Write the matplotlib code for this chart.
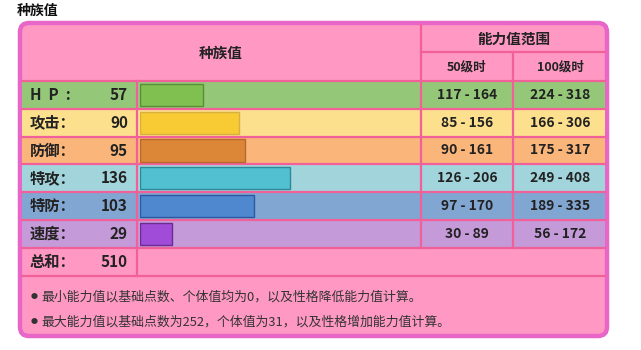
import matplotlib
matplotlib.use("Agg")
import matplotlib.pyplot as plt
from matplotlib.patches import Rectangle, FancyBboxPatch

plt.rcParams['font.family'] = ['Noto Sans CJK SC', 'DejaVu Sans']

# data
stat_labels = ['H  P  :', '攻击：', '防御：', '特攻：', '特防：', '速度：']
base_stats = [57, 90, 95, 136, 103, 29]
range_lv50 = ['117 - 164', '85 - 156', '90 - 161', '126 - 206', '97 - 170', '30 - 89']
range_lv100 = ['224 - 318', '166 - 306', '175 - 317', '249 - 408', '189 - 335', '56 - 172']
total_label = '总和：'
total_value = 510
notes = ['最小能力值以基础点数、个体值均为0，以及性格降低能力值计算。',
         '最大能力值以基础点数为252，个体值为31，以及性格增加能力值计算。']

row_bg = ['#94c878', '#fde08e', '#fab57a', '#a2d4dc', '#82a6d2', '#c49ad8']
bar_fc = ['#80c050', '#f8ca34', '#dc8638', '#52c0d0', '#5088d0', '#a04cd8']
bar_ec = ['#5a8c3c', '#d8b040', '#b86a2c', '#2e8898', '#2c58a0', '#6a2c90']

pink = '#ff99c4'
line_c = '#f2609a'
border_c = '#e866c8'
txt = '#222222'

W, H = 641, 350
fig = plt.figure(figsize=(W / 100, H / 100), dpi=100)
ax = fig.add_axes([0, 0, 1, 1])
ax.set_xlim(0, W)
ax.set_ylim(H, 0)
ax.axis('off')

x0, x1 = 20, 607
y0, y1 = 23, 336
c_lab, c_r1, c_r2 = 137, 421, 513
head_mid = 52
row_top = 81
row_h = 27.8

# outer box
ax.add_patch(FancyBboxPatch((x0, y0), x1 - x0, y1 - y0,
                            boxstyle='round,pad=0,rounding_size=9',
                            fc=pink, ec=border_c, lw=3.2, zorder=1))

# stat rows backgrounds
for i, bg in enumerate(row_bg):
    top = row_top + i * row_h
    ax.add_patch(Rectangle((x0 + 2, top), x1 - x0 - 4, row_h, fc=bg, ec='none', zorder=2))

# grid lines
lw = 1.6
bottom_stats = row_top + 6 * row_h
total_bottom = bottom_stats + row_h
for k in range(7):
    y = row_top + k * row_h
    ax.plot([x0 + 2, x1 - 2], [y, y], color=line_c, lw=lw, zorder=3)
ax.plot([x0 + 2, x1 - 2], [total_bottom, total_bottom], color=line_c, lw=lw, zorder=3)
ax.plot([c_r1, x1 - 2], [head_mid, head_mid], color=line_c, lw=lw, zorder=3)
ax.plot([c_lab, c_lab], [row_top, total_bottom], color=line_c, lw=lw, zorder=3)
ax.plot([c_r1, c_r1], [y0 + 2, bottom_stats], color=line_c, lw=lw, zorder=3)
ax.plot([c_r2, c_r2], [head_mid, bottom_stats], color=line_c, lw=lw, zorder=3)

# header text
ax.text((x0 + c_r1) / 2, 53, '种族值', ha='center', va='center', fontsize=10.5, weight='bold', color=txt, zorder=4)
ax.text((c_r1 + x1) / 2, 39, '能力值范围', ha='center', va='center', fontsize=10.5, weight='bold', color=txt, zorder=4)
ax.text((c_r1 + c_r2) / 2, 67, '50级时', ha='center', va='center', fontsize=9, weight='bold', color=txt, zorder=4)
ax.text((c_r2 + x1) / 2, 67, '100级时', ha='center', va='center', fontsize=9, weight='bold', color=txt, zorder=4)

# rows text
for i in range(len(stat_labels)):
    yc = row_top + (i + 0.5) * row_h
    ax.text(30, yc, stat_labels[i], ha='left', va='center', fontsize=11, weight='bold', color=txt, zorder=4)
    ax.text(128, yc, str(base_stats[i]), ha='right', va='center', fontsize=11, weight='bold', color=txt, zorder=4)
    ax.text((c_r1 + c_r2) / 2, yc, range_lv50[i], ha='center', va='center', fontsize=10, weight='bold', color=txt, zorder=4)
    ax.text((c_r2 + x1) / 2, yc, range_lv100[i], ha='center', va='center', fontsize=10, weight='bold', color=txt, zorder=4)

yc = bottom_stats + 0.5 * row_h
ax.text(30, yc, total_label, ha='left', va='center', fontsize=11, weight='bold', color=txt, zorder=4)
ax.text(128, yc, str(total_value), ha='right', va='center', fontsize=11, weight='bold', color=txt, zorder=4)

# notes
for j, note in enumerate(notes):
    yn = 297 + j * 25
    ax.text(31, yn, '●', ha='left', va='center', fontsize=5, color='#333333', zorder=4)
    ax.text(41, yn, note, ha='left', va='center', fontsize=9.3, color='#333333', zorder=4)

# title
ax.text(17, 11, '种族值', ha='left', va='center', fontsize=10, weight='bold', color='#111111')

# bars in their own axes: x scale 0..255 over the bar column
bx0, bx1 = 140, 421
bax = fig.add_axes([bx0 / W, 1 - bottom_stats / H, (bx1 - bx0) / W, (bottom_stats - row_top) / H])
bax.set_xlim(0, 255)
bax.set_ylim(len(base_stats) - 0.5, -0.5)
bax.barh(range(len(base_stats)), base_stats, height=0.8, color=bar_fc, edgecolor=bar_ec, linewidth=1)
bax.axis('off')
bax.patch.set_alpha(0)

fig.savefig('out.png', dpi=100)
